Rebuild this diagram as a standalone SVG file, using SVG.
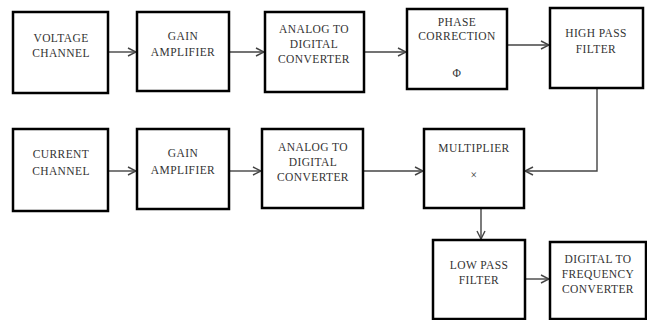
<svg xmlns="http://www.w3.org/2000/svg" width="647" height="320" viewBox="0 0 647 320">
<style>
.box{fill:#fff;stroke:#000;stroke-width:2.5}
text{font-family:"Liberation Serif","DejaVu Serif","Times New Roman",serif;font-size:11.5px;letter-spacing:0.4px;fill:#333;text-anchor:middle}
.c{fill:none;stroke:#444;stroke-width:1.4}
</style>
<defs>
<marker id="ah" markerWidth="10" markerHeight="10" refX="9" refY="5" orient="auto" markerUnits="userSpaceOnUse">
<path d="M1,1 L9,5 L1,9" fill="none" stroke="#444" stroke-width="1.4"/>
</marker>
</defs>
<rect width="647" height="320" fill="#fff"/>
<g id="connectors">
<line class="c" x1="108" y1="52" x2="136" y2="52" marker-end="url(#ah)"/>
<line class="c" x1="229" y1="52" x2="264" y2="52" marker-end="url(#ah)"/>
<line class="c" x1="364" y1="52" x2="406" y2="52" marker-end="url(#ah)"/>
<line class="c" x1="507" y1="45" x2="549" y2="45" marker-end="url(#ah)"/>
<polyline class="c" points="597,88 597,171 525,171" marker-end="url(#ah)"/>
<line class="c" x1="108" y1="171" x2="136" y2="171" marker-end="url(#ah)"/>
<line class="c" x1="229" y1="171" x2="261" y2="171" marker-end="url(#ah)"/>
<line class="c" x1="363" y1="171" x2="423" y2="171" marker-end="url(#ah)"/>
<line class="c" x1="481" y1="208" x2="481" y2="239" marker-end="url(#ah)"/>
<line class="c" x1="525" y1="279" x2="549" y2="279" marker-end="url(#ah)"/>
</g>
<g id="voltage-channel"><rect class="box" x="13" y="12" width="95" height="81"/><text x="61" y="42">VOLTAGE</text><text x="61" y="57">CHANNEL</text></g>
<g id="gain-amplifier-1"><rect class="box" x="137" y="12" width="92" height="79"/><text x="183" y="40">GAIN</text><text x="183" y="56">AMPLIFIER</text></g>
<g id="adc-1"><rect class="box" x="265" y="12" width="99" height="80"/><text x="314" y="33">ANALOG TO</text><text x="314" y="48">DIGITAL</text><text x="314" y="63">CONVERTER</text></g>
<g id="phase-correction"><rect class="box" x="407" y="9" width="100" height="80"/><text x="457" y="26">PHASE</text><text x="457" y="40">CORRECTION</text><text x="457" y="77">Φ</text></g>
<g id="high-pass-filter"><rect class="box" x="550" y="8" width="93" height="80"/><text x="596" y="37">HIGH PASS</text><text x="596" y="53">FILTER</text></g>
<g id="current-channel"><rect class="box" x="13" y="129" width="95" height="82"/><text x="61" y="158">CURRENT</text><text x="61" y="175">CHANNEL</text></g>
<g id="gain-amplifier-2"><rect class="box" x="137" y="129" width="92" height="80"/><text x="183" y="157">GAIN</text><text x="183" y="174">AMPLIFIER</text></g>
<g id="adc-2"><rect class="box" x="262" y="129" width="101" height="79"/><text x="313" y="151">ANALOG TO</text><text x="313" y="166">DIGITAL</text><text x="313" y="181">CONVERTER</text></g>
<g id="multiplier"><rect class="box" x="424" y="129" width="100" height="79"/><text x="474" y="152">MULTIPLIER</text><text x="474" y="179">×</text></g>
<g id="low-pass-filter"><rect class="box" x="433" y="240" width="92" height="79"/><text x="479" y="269">LOW PASS</text><text x="479" y="284">FILTER</text></g>
<g id="digital-to-frequency"><rect class="box" x="550" y="242" width="96" height="77"/><text x="598" y="263">DIGITAL TO</text><text x="598" y="278">FREQUENCY</text><text x="598" y="293">CONVERTER</text></g>
</svg>
